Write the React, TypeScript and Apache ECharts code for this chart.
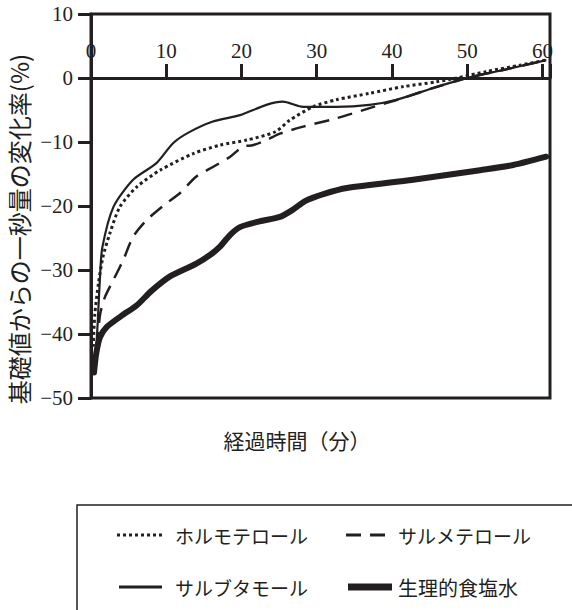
import React, { useEffect, useRef } from "react";
import * as echarts from "echarts";

// ---- data (minutes, % change from baseline FEV1) ----
const formoterolT = [0.3, 0.5, 1, 1.6, 2.5, 3.85, 6.1, 9.2, 13.6, 17.1, 20.7, 24.5, 26.4, 29.5, 32.6, 37, 41.5, 45.9, 48.6, 52.5, 57, 60.5];
const formoterolV = [-42, -37, -32, -27.9, -24.3, -20.1, -17, -14.4, -11.8, -10.5, -9.7, -8.4, -6.6, -4.5, -3.4, -2.4, -1.35, -0.6, 0, 1, 2, 2.8];

const salmeterolT = [0.8, 1.2, 1.86, 3, 4.3, 5.6, 7.4, 10, 11.8, 14, 16.2, 18.5, 20.2, 21.5, 23.3, 25.1, 28.2, 32.6, 38.4, 41, 45.9, 50.3, 54.8, 60.5];
const salmeterolV = [-42, -37, -34.2, -31.5, -28.4, -24.8, -22.2, -19.6, -18, -15.4, -13.9, -12.3, -10.7, -10.5, -9.7, -8.7, -7.6, -6.3, -4.2, -3.3, -1.4, 0.1, 1.25, 2.8];

const salbutamolT = [0.5, 0.7, 0.9, 1.2, 1.5, 3, 5.6, 8.7, 10.9, 13, 16.2, 19.8, 23.3, 25.5, 28.2, 32.6, 37, 40.6, 45.9, 50.3, 54.8, 60.5];
const salbutamolV = [-45, -42, -38, -31, -26.5, -20.1, -15.9, -13.3, -10.2, -8.5, -6.8, -5.8, -4.2, -3.7, -4.5, -4.5, -4.2, -3.4, -1.4, 0.1, 1.25, 2.8];

const salineT = [0.4, 0.7, 1.2, 2.1, 4, 6.1, 8, 10.5, 14, 16, 17.1, 18.5, 19.8, 22.4, 25.1, 26.8, 28.5, 31, 34, 42.8, 51.7, 56.1, 60.5];
const salineV = [-46, -43, -40.5, -38.9, -37.2, -35.5, -33.3, -31, -29, -27.5, -26.4, -24.5, -23.3, -22.4, -21.7, -20.6, -19.2, -18.1, -17.2, -15.9, -14.4, -13.6, -12.3];

const seriesNames = ["ホルモテロール", "サルメテロール", "サルブタモール", "生理的食塩水"];
const xAxisTitle = "経過時間（分）";
const yAxisTitle = "基礎値からの一秒量の変化率(%)";
const xMin = 0;
const xMax = 61;
const xStep = 10;
const yMin = -50;
const yMax = 10;
const yStep = 10;

const pairs = (t: number[], v: number[]) => t.map((x, i) => [x, v[i]]);

const CJK = '"Noto Sans CJK JP", "Noto Sans", sans-serif';
const SERIF = '"Liberation Serif", "DejaVu Serif", serif';
const INK = "#231f20";

export default function App() {
  const ref = useRef<HTMLDivElement>(null);
  useEffect(() => {
    if (!ref.current) return;
    const chart = echarts.init(ref.current, undefined, { renderer: "svg" });
    const lineBase = { type: "line", showSymbol: false, symbol: "none", smooth: 0.25, z: 3 };
    chart.setOption({
      animation: false,
      backgroundColor: "#ffffff",
      grid: {
        left: 91,
        right: 22,
        top: 14,
        bottom: 212,
        show: true,
        borderColor: INK,
        borderWidth: 3,
        backgroundColor: "transparent",
        containLabel: false,
      },
      xAxis: {
        type: "value",
        min: xMin,
        max: xMax,
        interval: xStep,
        position: "top",
        offset: -64,
        axisLine: { show: true, onZero: false, lineStyle: { color: INK, width: 3 } },
        axisTick: { show: true, inside: false, length: 14, lineStyle: { color: INK, width: 3 } },
        axisLabel: {
          show: true,
          inside: false,
          margin: 17,
          color: INK,
          fontFamily: SERIF,
          fontSize: 21,
          formatter: (v: number) => (v % xStep === 0 ? String(v) : ""),
        },
        splitLine: { show: false },
      },
      yAxis: {
        type: "value",
        min: yMin,
        max: yMax,
        interval: yStep,
        axisLine: { show: true, onZero: false, lineStyle: { color: INK, width: 3 } },
        axisTick: { show: true, inside: false, length: 13, lineStyle: { color: INK, width: 3 } },
        axisLabel: {
          margin: 18,
          color: INK,
          fontFamily: SERIF,
          fontSize: 21,
          formatter: (v: number) => String(v).replace("-", "−"),
        },
        splitLine: { show: false },
      },
      series: [
        {
          ...lineBase,
          name: seriesNames[0],
          data: pairs(formoterolT, formoterolV),
          lineStyle: { color: INK, width: 3, type: [3, 3], cap: "butt" },
        },
        {
          ...lineBase,
          name: seriesNames[1],
          data: pairs(salmeterolT, salmeterolV),
          lineStyle: { color: INK, width: 2.5, type: [15, 9], cap: "butt" },
        },
        {
          ...lineBase,
          name: seriesNames[2],
          data: pairs(salbutamolT, salbutamolV),
          lineStyle: { color: INK, width: 2.2, type: "solid" },
        },
        {
          ...lineBase,
          name: seriesNames[3],
          data: pairs(salineT, salineV),
          lineStyle: { color: INK, width: 6, type: "solid", cap: "round", join: "round" },
        },
      ],
      graphic: [
        {
          type: "text",
          x: 18,
          y: 229,
          rotation: Math.PI / 2,
          style: {
            text: yAxisTitle,
            font: `24px ${CJK}`,
            fill: INK,
            align: "center",
            verticalAlign: "middle",
          },
        },
        {
          type: "text",
          x: 297,
          y: 440,
          style: {
            text: xAxisTitle,
            font: `21px ${CJK}`,
            fill: INK,
            align: "center",
            verticalAlign: "middle",
          },
        },
        // legend box
        {
          type: "rect",
          shape: { x: 77, y: 505, width: 600, height: 200 },
          style: { fill: "none", stroke: INK, lineWidth: 1.5 },
        },
        {
          type: "line",
          shape: { x1: 117, y1: 535, x2: 164, y2: 535 },
          style: { stroke: INK, lineWidth: 3, lineDash: [3, 3] },
        },
        {
          type: "text",
          x: 175,
          y: 535,
          style: { text: seriesNames[0], font: `19px ${CJK}`, fill: INK, verticalAlign: "middle" },
        },
        {
          type: "line",
          shape: { x1: 346, y1: 535, x2: 392, y2: 535 },
          style: { stroke: INK, lineWidth: 3, lineDash: [15, 9] },
        },
        {
          type: "text",
          x: 398,
          y: 535,
          style: { text: seriesNames[1], font: `19px ${CJK}`, fill: INK, verticalAlign: "middle" },
        },
        {
          type: "line",
          shape: { x1: 119, y1: 587, x2: 162, y2: 587 },
          style: { stroke: INK, lineWidth: 3 },
        },
        {
          type: "text",
          x: 175,
          y: 587,
          style: { text: seriesNames[2], font: `19px ${CJK}`, fill: INK, verticalAlign: "middle" },
        },
        {
          type: "line",
          shape: { x1: 348, y1: 587, x2: 392, y2: 587 },
          style: { stroke: INK, lineWidth: 7 },
        },
        {
          type: "text",
          x: 398,
          y: 587,
          style: { text: seriesNames[3], font: `20px ${CJK}`, fill: INK, verticalAlign: "middle" },
        },
      ],
    });
    return () => chart.dispose();
  }, []);
  return (
    <div
      ref={ref}
      style={{ position: "fixed", left: 0, top: 0, width: 572, height: 610, background: "#fff" }}
    />
  );
}
